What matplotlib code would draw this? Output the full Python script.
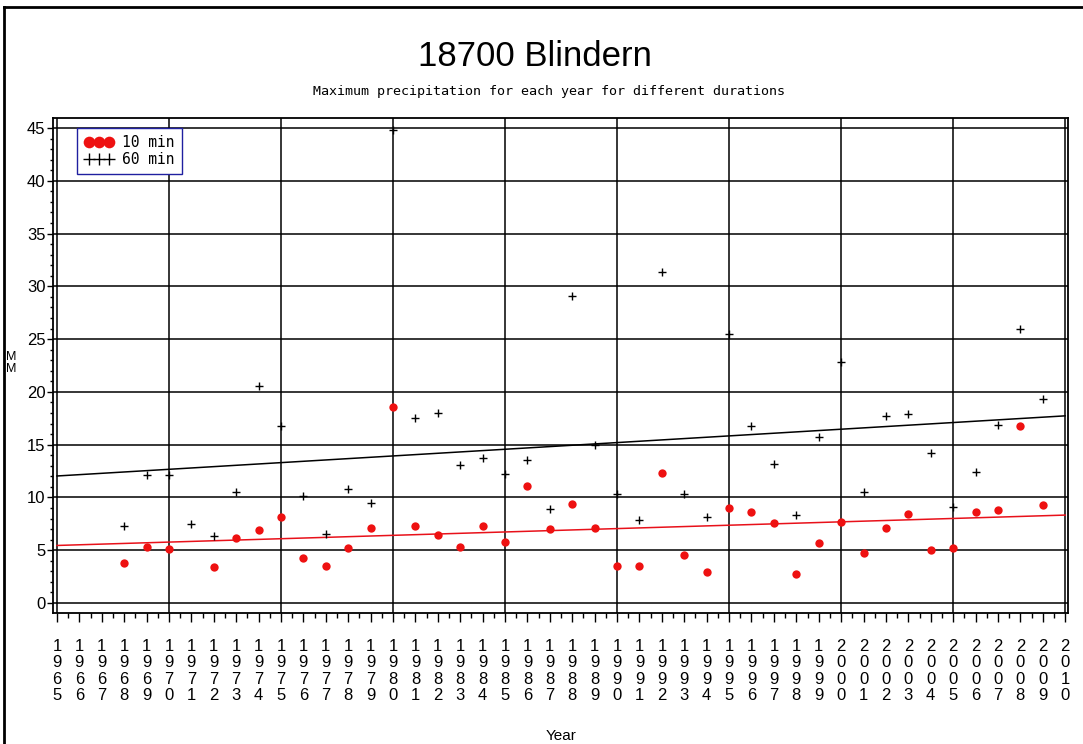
import numpy as np
import matplotlib
matplotlib.use('Agg')
import matplotlib.pyplot as plt
from matplotlib.lines import Line2D

# Years with observations
years = np.arange(1968, 2010)

# Annual maximum precipitation (mm), 10 min duration (1971 missing)
max_10min = [3.8, 5.3, 5.1, np.nan, 3.4, 6.2, 6.9, 8.1, 4.3, 3.5,
             5.2, 7.1, 18.6, 7.3, 6.4, 5.3, 7.3, 5.8, 11.1, 7.0,
             9.4, 7.1, 3.5, 3.5, 12.3, 4.5, 2.9, 9.0, 8.6, 7.6,
             2.7, 5.7, 7.7, 4.7, 7.1, 8.4, 5.0, 5.2, 8.6, 8.8,
             16.8, 9.3]

# Annual maximum precipitation (mm), 60 min duration
max_60min = [7.3, 12.1, 12.1, 7.5, 6.3, 10.5, 20.6, 16.8, 10.1, 6.5,
             10.8, 9.5, 44.8, 17.5, 18.0, 13.1, 13.7, 12.2, 13.5, 8.9,
             29.1, 15.0, 10.3, 7.9, 31.4, 10.3, 8.15, 25.5, 16.8, 13.2,
             8.3, 15.7, 22.8, 10.5, 17.7, 17.9, 14.2, 9.1, 12.4, 16.9,
             26.0, 19.3]

tick_years = np.arange(1965, 2011)
tick_labels = ['\n'.join(str(y)) for y in tick_years]

label_font = 'Liberation Sans'


def trend(x, y, x_out):
    """Least squares line through the non-missing points."""
    x = np.asarray(x, dtype=float)
    y = np.asarray(y, dtype=float)
    ok = ~np.isnan(y)
    coef = np.polyfit(x[ok], y[ok], 1)
    return np.polyval(coef, x_out)


fig = plt.figure(figsize=(10.83, 7.44), dpi=100)
ax = fig.add_axes([0.0489, 0.1761, 0.9373, 0.6653])

# Grid first so the data sits on top
for yv in range(0, 50, 5):
    ax.axhline(yv, color='black', lw=1.1, zorder=1)
for xv in range(1965, 2015, 5):
    ax.axvline(xv, color='black', lw=1.1, zorder=1)

line_x = np.array([1965, 2010])
ax.plot(line_x, trend(years, max_60min, line_x), color='black', lw=1.1, zorder=2)
ax.plot(line_x, trend(years, max_10min, line_x), color='#e8111a', lw=1.1, zorder=2)

ax.plot(years, max_10min, 'o', color='#ee1111', markersize=6, mec='none',
        label='10 min', zorder=3)
ax.plot(years, max_60min, '+', color='black', markersize=6, mew=1.0,
        label='60 min', zorder=3)

ax.set_xlim(1964.82, 2010.13)
ax.set_ylim(-0.95, 45.95)

ax.set_xticks(tick_years)
ax.set_xticklabels(tick_labels, fontfamily=label_font, fontsize=12, linespacing=1.12)
ax.set_xticks(np.arange(1965.5, 2010, 1.0), minor=True)
ax.set_yticks(range(0, 50, 5))
ax.set_yticks(range(0, 46), minor=True)
ax.set_yticklabels([str(v) for v in range(0, 50, 5)], fontfamily=label_font, fontsize=12)

ax.tick_params(axis='x', which='major', direction='out', length=6.5, width=1, pad=12)
ax.tick_params(axis='x', which='minor', direction='out', length=3.6, width=1)
ax.tick_params(axis='y', which='major', direction='out', length=4.3, width=1, pad=1)
ax.tick_params(axis='y', which='minor', direction='out', length=2.2, width=1)

for sp in ax.spines.values():
    sp.set_linewidth(1.3)

leg = ax.legend(loc='upper left', bbox_to_anchor=(0.0236, 0.9798), borderaxespad=0,
                numpoints=3, handlelength=2.0, handletextpad=0.6, markerscale=1.4,
                fancybox=False, framealpha=1, edgecolor='#2020a0',
                prop={'family': 'DejaVu Sans Mono', 'size': 10.5},
                labelspacing=0.1, borderpad=0.5)
leg.get_frame().set_linewidth(1.0)

fig.text(535 / 1083, 1 - 56 / 744, '18700 Blindern', ha='center', va='center',
         fontfamily='Liberation Sans', fontsize=25)
fig.text(549 / 1083, 1 - 91 / 744,
         'Maximum precipitation for each year for different durations',
         ha='center', va='center', fontfamily='DejaVu Sans Mono', fontsize=9.6)
fig.text(561 / 1083, 1 - 736 / 744, 'Year', ha='center', va='center',
         fontfamily=label_font, fontsize=11)
fig.text(11 / 1083, 1 - 363 / 744, 'M\nM', ha='center', va='center',
         fontfamily=label_font, fontsize=9, linespacing=1.0)

# Page border on the left and top
fig.add_artist(Line2D([4 / 1083, 4 / 1083], [0, 1 - 7 / 744], color='black', lw=2,
                      transform=fig.transFigure))
fig.add_artist(Line2D([4 / 1083, 1], [1 - 7 / 744, 1 - 7 / 744], color='black', lw=2,
                      transform=fig.transFigure))

fig.savefig('out.png', dpi=100)
